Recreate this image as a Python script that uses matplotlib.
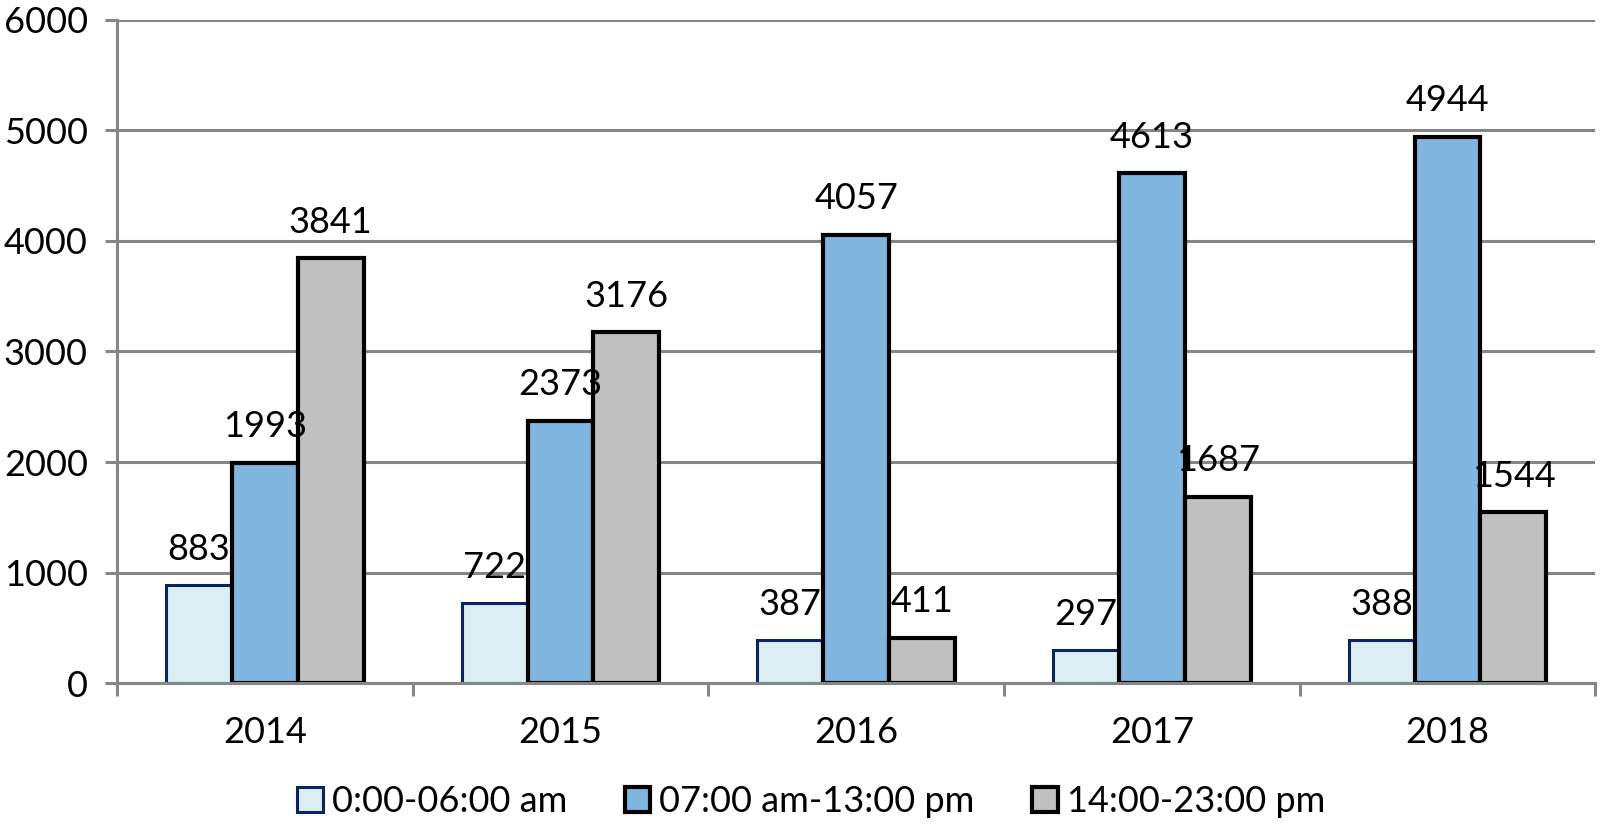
import numpy as np
import matplotlib.pyplot as plt
import matplotlib as mpl

mpl.rcParams.update({
    "font.family": ["Lato", "DejaVu Sans"],
    "font.size": 26,
})

years = ["2014", "2015", "2016", "2017", "2018"]
night = [883, 722, 387, 297, 388]
morning = [1993, 2373, 4057, 4613, 4944]
evening = [3841, 3176, 411, 1687, 1544]

series_labels = ["0:00-06:00 am", "07:00 am-13:00 pm", "14:00-23:00 pm"]
fills = ["#DAEEF3", "#80B5DF", "#C0C0C0"]
edges = ["#0B2360", "#000000", "#000000"]
edge_w = [2.2, 3.0, 3.0]

GRID = "#868686"

fig = plt.figure(figsize=(16, 8.25), dpi=100)
ax = fig.add_axes([0.0731, 0.172, 0.924, 0.804])

x = np.arange(len(years))
w = 0.223
for i, (vals, lab) in enumerate(zip([night, morning, evening], series_labels)):
    pos = x + (i - 1) * w
    bars = ax.bar(pos, vals, w, color=fills[i], edgecolor=edges[i],
                  linewidth=edge_w[i], label=lab, zorder=2)
    for b, v in zip(bars, vals):
        ax.annotate(f"{v}", (b.get_x() + b.get_width() / 2, v),
                    xytext=(0, 14), textcoords="offset points",
                    ha="center", va="bottom", fontsize=26, zorder=4)

ax.set_xlim(-0.5, len(years) - 0.5)
ax.set_ylim(0, 6000)
ax.set_yticks(range(0, 6001, 1000))
ax.yaxis.grid(True, color=GRID, linewidth=2.2, zorder=0)
ax.set_axisbelow(True)

# category labels centred, ticks at group boundaries
ax.set_xticks(x)
ax.set_xticklabels(years)
ax.set_xticks(np.arange(-0.5, len(years)), minor=True)
ax.tick_params(axis="x", which="major", length=0, pad=24)
ax.tick_params(axis="x", which="minor", length=9, width=2.2, color=GRID, direction="out")
ax.tick_params(axis="y", length=9, width=2.2, color=GRID, direction="out", pad=12)

for s in ["top", "right"]:
    ax.spines[s].set_visible(False)
for s in ["left", "bottom"]:
    ax.spines[s].set_color(GRID)
    ax.spines[s].set_linewidth(2.2)

fig.legend(*ax.get_legend_handles_labels(), loc="center",
           bbox_to_anchor=(0.507, 0.028), ncol=3, frameon=False, fontsize=26,
           handlelength=0.7, handleheight=0.7, handletextpad=0.25,
           columnspacing=1.6)

fig.savefig("out.png", dpi=100)
